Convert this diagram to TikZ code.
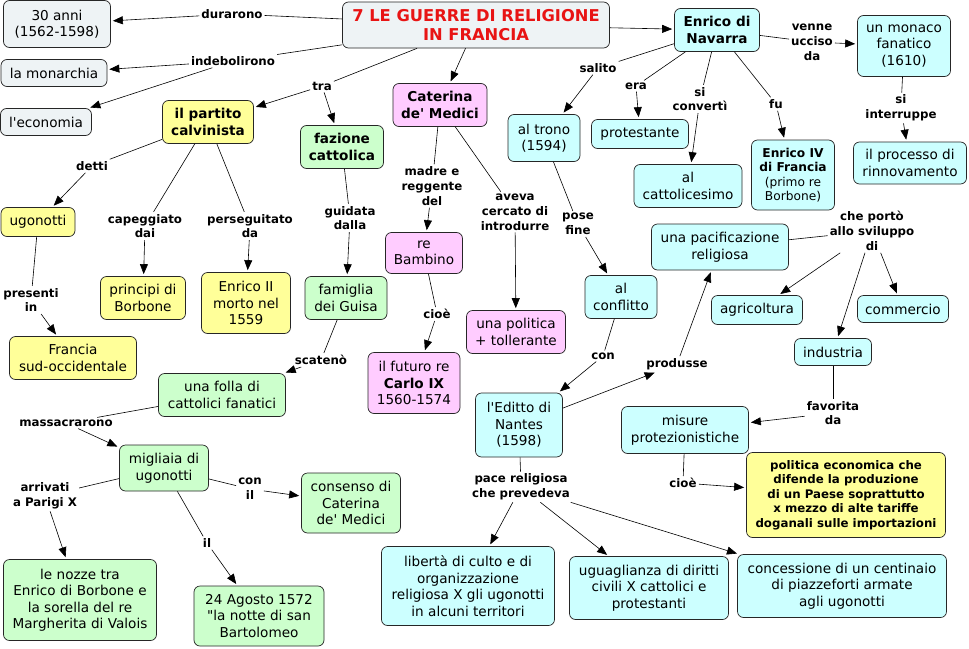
\documentclass[tikz,border=0pt]{standalone}
\usepackage{fontspec}
\setmainfont{DejaVu Sans}[Ligatures=TeXReset]
\usetikzlibrary{arrows.meta,positioning}
\definecolor{cgray}{RGB}{238,243,245}
\definecolor{ccyan}{RGB}{204,255,255}
\definecolor{cyel}{RGB}{255,255,153}
\definecolor{cgreen}{RGB}{204,255,204}
\definecolor{cpink}{RGB}{255,204,255}
\definecolor{ctitle}{RGB}{232,20,20}
\tikzset{
  cpt/.style={draw=black!85, line width=0.7pt, rounded corners=6pt, align=center,
              inner sep=2pt, font=\fontsize{13.6}{16.5}\selectfont},
  cgr/.style={cpt, fill=cgray},
  ccy/.style={cpt, fill=ccyan},
  cye/.style={cpt, fill=cyel},
  cgn/.style={cpt, fill=cgreen},
  cpk/.style={cpt, fill=cpink},
  lnk/.style={align=center, inner sep=2pt, font=\fontsize{11.8}{14.8}\selectfont\bfseries},
  ln/.style={line width=0.6pt},
  arr/.style={line width=0.6pt, -{Triangle[length=10pt,width=8pt]}, shorten >=2pt},
}
\begin{document}
\begin{tikzpicture}[x=1pt,y=-1pt]
    \useasboundingbox[fill=white] (0,0) rectangle (969,648);
    % concepts
    \node[cgr, minimum width=267, minimum height=46, text=ctitle,
          font=\fontsize{16.3}{19}\selectfont\bfseries] (main) at (476,25)
         {7 LE GUERRE DI RELIGIONE\\IN FRANCIA};
    \node[cgr, minimum width=107, minimum height=47] (anni) at (57,24) {30 anni\\(1562-1598)};
    \node[cgr, minimum width=106, minimum height=27] (monar) at (54,73) {la monarchia};
    \node[cgr, minimum width=91, minimum height=27] (econ) at (46,122) {l'economia};
    \node[cye, minimum width=91, minimum height=43, font=\fontsize{13.6}{16.5}\selectfont\bfseries]
         (calv) at (208,122) {il partito\\calvinista};
    \node[cgn, minimum width=83, minimum height=43, font=\fontsize{13.6}{16.5}\selectfont\bfseries]
         (fazione) at (342,147) {fazione\\cattolica};
    \node[cpk, minimum width=94, minimum height=43, font=\fontsize{13.6}{16.5}\selectfont\bfseries]
         (cater) at (440,105) {Caterina\\de' Medici};
    \node[ccy, minimum width=85, minimum height=43, font=\fontsize{13.6}{16.5}\selectfont\bfseries]
         (navarra) at (717,30) {Enrico di\\Navarra};
    \node[ccy, minimum width=72, minimum height=47] (trono) at (544,138) {al trono\\(1594)};
    \node[ccy, minimum width=97, minimum height=29] (protest) at (640,134) {protestante};
    \node[ccy, minimum width=108, minimum height=43] (cattol) at (688,186) {al\\cattolicesimo};
    \node[ccy, minimum width=83, minimum height=70, font=\fontsize{12.2}{14.5}\selectfont]
         (enrico4) at (793,175) {\textbf{Enrico IV}\\\textbf{di Francia}\\(primo re\\Borbone)};
    \node[ccy, minimum width=93, minimum height=61] (monaco) at (904,46) {un monaco\\fanatico\\(1610)};
    \node[ccy, minimum width=113, minimum height=42] (processo) at (910,163) {il processo di\\rinnovamento};
    \node[cye, minimum width=74, minimum height=29] (ugon) at (38,222) {ugonotti};
    \node[cye, minimum width=85, minimum height=43] (principi) at (143,298) {principi di\\Borbone};
    \node[cye, minimum width=89, minimum height=61] (enrico2) at (246,303) {Enrico II\\morto nel\\1559};
    \node[cye, minimum width=127, minimum height=43] (francia) at (73,358) {Francia\\sud-occidentale};
    \node[cgn, minimum width=82, minimum height=43] (guisa) at (346,298) {famiglia\\dei Guisa};
    \node[cpk, minimum width=77, minimum height=41] (bambino) at (424,253) {re\\Bambino};
    \node[cpk, minimum width=92, minimum height=61] (futuro) at (414,383)
         {il futuro re\\\textbf{Carlo IX}\\1560-1574};
    \node[cpk, minimum width=99, minimum height=43] (polit) at (516,332) {una politica\\+ tollerante};
    \node[ccy, minimum width=72, minimum height=43] (conflitto) at (621,297) {al\\conflitto};
    \node[ccy, minimum width=137, minimum height=46] (pacif) at (720,247) {una pacificazione\\religiosa};
    \node[ccy, minimum width=91, minimum height=29] (agric) at (757,310) {agricoltura};
    \node[ccy, minimum width=91, minimum height=27] (comm) at (903,309) {commercio};
    \node[ccy, minimum width=77, minimum height=27] (indus) at (833,352) {industria};
    \node[ccy, minimum width=127, minimum height=47] (misure) at (685,430) {misure\\protezionistiche};
    \node[cye, minimum width=199, minimum height=85, font=\fontsize{11.8}{14.5}\selectfont\bfseries]
         (polec) at (846,495) {politica economica che\\difende la produzione\\di un Paese soprattutto\\x mezzo di alte tariffe\\doganali sulle importazioni};
    \node[ccy, minimum width=87, minimum height=64] (editto) at (519,425) {l'Editto di\\Nantes\\(1598)};
    \node[cgn, minimum width=127, minimum height=43] (folla) at (222,395) {una folla di\\cattolici fanatici};
    \node[cgn, minimum width=89, minimum height=46] (migliaia) at (164,468) {migliaia di\\ugonotti};
    \node[cgn, minimum width=99, minimum height=60] (consenso) at (351,503) {consenso di\\Caterina\\de' Medici};
    \node[cgn, minimum width=153, minimum height=81] (nozze) at (80,600)
         {le nozze tra\\Enrico di Borbone e\\la sorella del re\\Margherita di Valois};
    \node[cgn, minimum width=130, minimum height=60] (agosto) at (259,616)
         {24 Agosto 1572\\"la notte di san\\Bartolomeo};
    \node[ccy, minimum width=173, minimum height=79] (liberta) at (468,586)
         {libertà di culto e di\\organizzazione\\religiosa X gli ugonotti\\in alcuni territori};
    \node[ccy, minimum width=159, minimum height=63] (uguagl) at (649,588)
         {uguaglianza di diritti\\civili X cattolici e\\protestanti};
    \node[ccy, minimum width=209, minimum height=63] (conces) at (842,586)
         {concessione di un centinaio\\di piazzeforti armate\\agli ugonotti};
    % linking phrases
    \node[lnk] (durarono) at (232,14) {durarono};
    \node[lnk] (indebol) at (233,61) {indebolirono};
    \node[lnk] (tra) at (322,86) {tra};
    \node[lnk] (detti) at (92,166) {detti};
    \node[lnk] (capegg) at (145,226) {capeggiato\\dai};
    \node[lnk] (persegu) at (250,226) {perseguitato\\da};
    \node[lnk] (presenti) at (31,300) {presenti\\in};
    \node[lnk] (guidata) at (350,218) {guidata\\dalla};
    \node[lnk] (scateno) at (321,360) {scatenò};
    \node[lnk] (massacr) at (66,423) {massacrarono};
    \node[lnk] (arrivati) at (45,496) {arrivati\\a Parigi X};
    \node[lnk] (conil) at (250,489) {con\\il};
    \node[lnk] (il) at (207,543) {il};
    \node[lnk] (madre) at (432,186) {madre e\\reggente\\del};
    \node[lnk] (cioeA) at (437,314) {cioè};
    \node[lnk] (aveva) at (515,212) {aveva\\cercato di\\introdurre};
    \node[lnk] (salito) at (598,68) {salito};
    \node[lnk] (era) at (636,86) {era};
    \node[lnk] (siconv) at (700,99) {si\\convertì};
    \node[lnk] (fu) at (776,104) {fu};
    \node[lnk] (ucciso) at (812,42) {venne\\ucciso\\da};
    \node[lnk] (interr) at (901,108) {si\\interruppe};
    \node[lnk] (pose) at (578,224) {pose\\fine};
    \node[lnk] (con) at (603,356) {con};
    \node[lnk] (produsse) at (677,364) {produsse};
    \node[lnk] (porto) at (872,231) {che portò\\allo sviluppo\\di};
    \node[lnk] (favorita) at (833,413) {favorita\\da};
    \node[lnk] (cioeB) at (683,483) {cioè};
    \node[lnk] (pace) at (521,487) {pace religiosa\\che prevedeva};
    % connectors
    \draw[ln] (main) -- (durarono); \draw[arr] (durarono) -- (anni);
    \draw[ln] (main) -- (indebol); \draw[arr] (indebol) -- (monar); \draw[arr] (indebol) -- (econ);
    \draw[ln] (main) -- (tra); \draw[arr] (tra) -- (calv); \draw[arr] (tra) -- (fazione);
    \draw[arr] (main) -- (cater); \draw[arr] (main) -- (navarra);
    \draw[ln] (calv) -- (detti); \draw[arr] (detti) -- (ugon);
    \draw[ln] (calv) -- (capegg); \draw[arr] (capegg) -- (principi);
    \draw[ln] (calv) -- (persegu); \draw[arr] (persegu) -- (enrico2);
    \draw[ln] (ugon) -- (presenti); \draw[arr] (presenti) -- (francia);
    \draw[ln] (fazione) -- (guidata); \draw[arr] (guidata) -- (guisa);
    \draw[ln] (guisa) -- (scateno); \draw[arr] (scateno) -- (folla);
    \draw[ln] (folla) -- (massacr); \draw[arr] (massacr) -- (migliaia);
    \draw[ln] (migliaia) -- (arrivati); \draw[arr] (arrivati) -- (nozze);
    \draw[ln] (migliaia) -- (conil); \draw[arr] (conil) -- (consenso);
    \draw[ln] (migliaia) -- (il); \draw[arr] (il) -- (agosto);
    \draw[ln] (cater) -- (madre); \draw[arr] (madre) -- (bambino);
    \draw[ln] (bambino) -- (cioeA); \draw[arr] (cioeA) -- (futuro);
    \draw[ln] (cater) -- (aveva); \draw[arr] (aveva) -- (polit);
    \draw[ln] (navarra) -- (salito); \draw[arr] (salito) -- (trono);
    \draw[ln] (navarra) -- (era); \draw[arr] (era) -- (protest);
    \draw[ln] (navarra) -- (siconv); \draw[arr] (siconv) -- (cattol);
    \draw[ln] (navarra) -- (fu); \draw[arr] (fu) -- (enrico4);
    \draw[ln] (navarra) -- (ucciso); \draw[arr] (ucciso) -- (monaco);
    \draw[ln] (monaco) -- (interr); \draw[arr] (interr) -- (processo);
    \draw[ln] (trono) -- (pose); \draw[arr] (pose) -- (conflitto);
    \draw[ln] (conflitto) -- (con); \draw[arr] (con) -- (editto);
    \draw[arr] (editto) -- (produsse); \draw[arr] (produsse) -- (pacif);
    \draw[ln] (pacif) -- (porto); \draw[arr] (porto) -- (agric);
    \draw[arr] (porto) -- (indus); \draw[arr] (porto) -- (comm);
    \draw[ln] (indus) -- (favorita); \draw[arr] (favorita) -- (misure);
    \draw[ln] (misure) -- (cioeB); \draw[arr] (cioeB) -- (polec);
    \draw[ln] (editto) -- (pace); \draw[arr] (pace) -- (liberta);
    \draw[arr] (pace) -- (uguagl); \draw[arr] (pace) -- (conces);
\end{tikzpicture}
\end{document}
